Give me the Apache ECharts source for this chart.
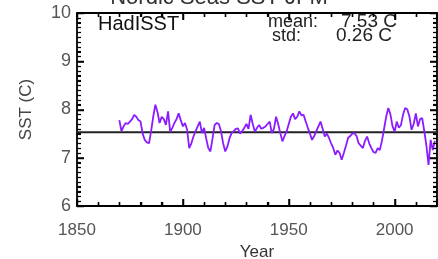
<!DOCTYPE html>
<html><head><meta charset="utf-8">
<script src="https://cdn.jsdelivr.net/npm/echarts@6/dist/echarts.min.js"></script>
<style>html,body{margin:0;padding:0;background:#fff}#c{width:438px;height:259px}</style>
</head><body><div id="c"></div>
<script>
const years = [];
for (let y = 1870; y <= 2019; y++) years.push(y);
const sst = [
7.78,7.55,7.65,7.72,7.70,7.75,7.80,7.89,7.85,7.78,
7.75,7.50,7.37,7.32,7.30,7.55,7.85,8.10,7.95,7.72,
7.85,7.80,7.68,7.96,7.54,7.62,7.72,7.80,7.92,7.78,
7.65,7.72,7.58,7.20,7.30,7.44,7.55,7.65,7.75,7.51,
7.62,7.40,7.20,7.13,7.40,7.68,7.72,7.70,7.55,7.30,
7.13,7.23,7.40,7.51,7.55,7.60,7.61,7.50,7.55,7.62,
7.70,7.60,7.89,7.70,7.54,7.62,7.68,7.60,7.62,7.65,
7.70,7.75,7.51,7.60,7.85,7.70,7.51,7.34,7.45,7.55,
7.70,7.85,7.92,7.80,7.85,7.96,7.88,7.89,7.75,7.62,
7.50,7.37,7.45,7.55,7.65,7.75,7.60,7.44,7.50,7.41,
7.30,7.20,7.06,7.15,7.10,6.96,7.10,7.25,7.41,7.45,
7.50,7.51,7.45,7.30,7.25,7.20,7.35,7.44,7.30,7.20,
7.12,7.10,7.20,7.16,7.35,7.60,7.85,8.03,7.90,7.65,
7.54,7.75,7.62,7.68,7.90,8.03,8.00,7.85,7.58,7.70,
7.92,7.65,7.80,7.82,7.55,7.25,6.85,7.37,7.16,7.35
];
const meanValue = 7.53;
const meanSpan = [1850, 2020];
const titleText = 'Nordic Seas SST JFM';
const datasetLabel = 'HadISST';
const meanLabel = 'mean:';
const meanText = '7.53 C';
const stdLabel = 'std:';
const stdText = '0.26 C';
const xTicks = [1850, 1900, 1950, 2000];
const xMinorTicks = [1860, 1870, 1880, 1890, 1910, 1920, 1930, 1940, 1960, 1970, 1980, 1990, 2010];
const yTicks = [6, 7, 8, 9, 10];
const yMinorTicks = [];
for (let k = 61; k < 100; k++) if (k % 10) yMinorTicks.push(k / 10);

const X_MIN = 1850, X_MAX = 2020, Y_MIN = 6, Y_MAX = 10;
const chart = echarts.init(document.getElementById('c'));
const mkLine = () => ({show: true, onZero: false, lineStyle: {color: '#000', width: 1.8}});
const mkTick = (len) => ({show: true, inside: true, length: len, lineStyle: {color: '#000', width: 1.5}});
const mkMinor = (n, len) => ({show: true, splitNumber: n, length: len, lineStyle: {color: '#000', width: 1.2}});
const mkX = (pos, labels) => ({
  type: 'value', min: X_MIN, max: X_MAX, interval: 50, position: pos,
  axisLabel: labels ? {fontSize: 17, color: '#555', margin: 16,
    formatter: v => xTicks.includes(v) ? String(v) : ''} : {show: false},
  axisLine: mkLine(), splitLine: {show: false},
  axisTick: mkTick(7), minorTick: mkMinor(5, 4)
});
const mkY = (pos, labels) => ({
  type: 'value', min: Y_MIN, max: Y_MAX, interval: 1, position: pos,
  axisLabel: labels ? {fontSize: 18, color: '#555', margin: 6,
    formatter: v => yTicks.includes(v) ? String(v) : ''} : {show: false},
  axisLine: mkLine(), splitLine: {show: false},
  axisTick: mkTick(7), minorTick: mkMinor(10, 4)
});
const xBottom = mkX('bottom', true);
Object.assign(xBottom, {name: 'Year', nameLocation: 'middle', nameGap: 38,
  nameTextStyle: {fontSize: 17, color: '#333'}});
const yLeft = mkY('left', true);
Object.assign(yLeft, {name: 'SST (C)', nameLocation: 'middle', nameGap: 42,
  nameTextStyle: {fontSize: 17, color: '#444'}});

chart.setOption({
  animation: false,
  grid: {left: 77, right: 1, top: 13, bottom: 53, containLabel: false, outerBoundsMode: 'none'},
  xAxis: [xBottom, mkX('top', false)],
  yAxis: [yLeft, mkY('right', false)],
  series: [{
    type: 'line', xAxisIndex: 0, yAxisIndex: 0,
    data: meanSpan.map(x => [x, meanValue]),
    showSymbol: false,
    lineStyle: {color: '#222', width: 2}
  }, {
    type: 'line', xAxisIndex: 0, yAxisIndex: 0,
    data: years.map((y, i) => [y, sst[i]]),
    showSymbol: false,
    lineStyle: {color: '#8a1cff', width: 1.8}
  }]
});

// Backup tick marks, placed through the chart's own scales
const finder = {xAxisIndex: 0, yAxisIndex: 0};
const px = p => chart.convertToPixel(finder, p);
const ticks = [];
const tickLine = (x1, y1, x2, y2, w) => ({type: 'line', silent: true, z: 100,
  shape: {x1: x1, y1: y1, x2: x2, y2: y2}, style: {stroke: '#000', lineWidth: w}});
const addX = (v, len) => {
  const b = px([v, Y_MIN]), t = px([v, Y_MAX]);
  if (!b || !t) return;
  ticks.push(tickLine(Math.round(b[0]) + 0.5, b[1], Math.round(b[0]) + 0.5, b[1] - len, 1.5));
  ticks.push(tickLine(Math.round(t[0]) + 0.5, t[1], Math.round(t[0]) + 0.5, t[1] + len, 1.5));
};
const addY = (v, len, w) => {
  const l = px([X_MIN, v]), r = px([X_MAX, v]);
  if (!l || !r) return;
  ticks.push(tickLine(l[0], Math.round(l[1]) + 0.5, l[0] + len, Math.round(l[1]) + 0.5, w));
  ticks.push(tickLine(r[0], Math.round(r[1]) + 0.5, r[0] - len, Math.round(r[1]) + 0.5, w));
};
xTicks.forEach(v => addX(v, 7));
xMinorTicks.forEach(v => addX(v, 4));
yTicks.forEach(v => addY(v, 7, 1.5));
yMinorTicks.forEach(v => addY(v, 4, 1.1));

chart.setOption({
  graphic: [
    {type: 'text', left: 'center', top: -13, style: {text: titleText, font: '22px sans-serif', fill: '#333', x: 0}},
    {type: 'text', left: 98, top: 14, style: {text: datasetLabel, font: '20px sans-serif', fill: '#111'}},
    {type: 'text', right: 438 - 318, top: 13, style: {text: meanLabel, font: '18px sans-serif', fill: '#222'}},
    {type: 'text', right: 438 - 397, top: 12, style: {text: meanText, font: '19px sans-serif', fill: '#222'}},
    {type: 'text', right: 438 - 301, top: 27, style: {text: stdLabel, font: '18px sans-serif', fill: '#222'}},
    {type: 'text', right: 438 - 392, top: 26, style: {text: stdText, font: '19px sans-serif', fill: '#222'}}
  ].concat(ticks)
});
</script></body></html>
